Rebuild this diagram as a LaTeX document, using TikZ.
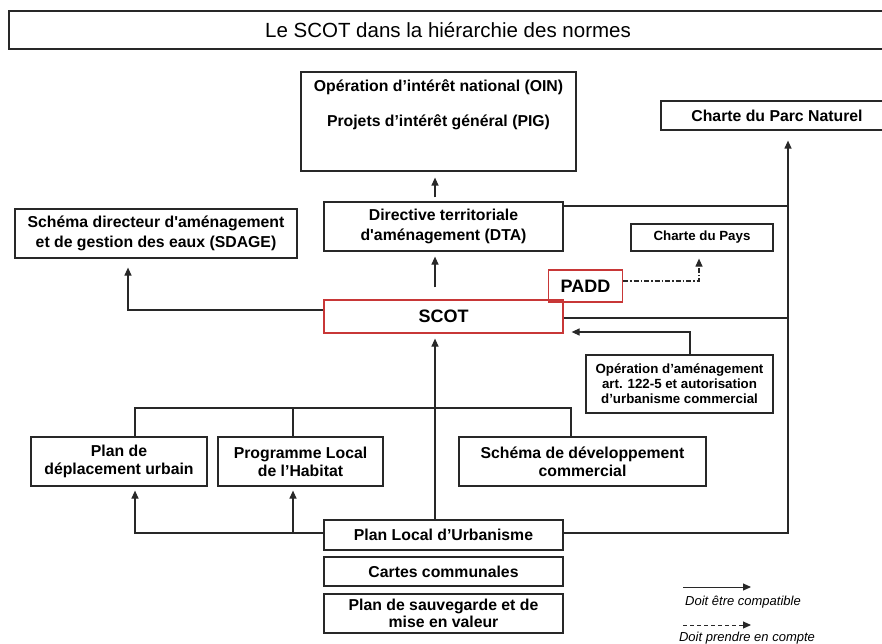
\documentclass[tikz,border=0pt]{standalone}
\usepackage{fontspec}
\setmainfont{Liberation Sans}
\usetikzlibrary{arrows.meta}
\definecolor{scotred}{RGB}{200,55,55}
\definecolor{ln}{RGB}{40,40,40}
\begin{document}
\begin{tikzpicture}[x=1pt,y=-1pt,
 box/.style={draw=ln, line width=1.2pt, rectangle, inner sep=0pt, align=center, font=\bfseries\fontsize{15.8}{19}\selectfont},
 redbox/.style={box, draw=scotred, font=\bfseries\fontsize{18}{20}\selectfont},
 small/.style={font=\bfseries\fontsize{13.3}{15}\selectfont},
 conn/.style={draw=ln, line width=1.2pt},
 arr/.style={conn, -{Triangle[length=8pt,width=7pt]}},
 dashdot/.style={conn, dash pattern=on 5pt off 2pt on 1.5pt off 2pt, -{Triangle[length=8pt,width=7pt]}},
 lab/.style={inner sep=0pt, font=\itshape\fontsize{13}{15}\selectfont}
]
\useasboundingbox (0,0) rectangle (882,644);
\fill[white] (0,0) rectangle (882,644);

% title
\node[box, font=\fontsize{20.5}{24}\selectfont, minimum width=878pt, minimum height=38pt] (title) at (448,30) {Le SCOT dans la hiérarchie des normes};

% boxes
\node[box, minimum width=275pt, minimum height=99pt] (oin) at (438.5,121.5) {};
\node[inner sep=0pt, align=center, font=\bfseries\fontsize{15.8}{19}\selectfont] (ointext) at (438.5,104.5) {Opération d’intérêt national (OIN)\\[16pt]Projets d’intérêt général (PIG)};
\node[box, minimum width=232pt, minimum height=29pt] (parc) at (777,115.5) {Charte du Parc Naturel};
\node[box, font=\bfseries\fontsize{15.8}{20}\selectfont, minimum width=239pt, minimum height=49pt] (dta) at (443.5,226.5) {Directive territoriale\\d\textquotesingle aménagement (DTA)};
\node[box, font=\bfseries\fontsize{15.8}{20}\selectfont, minimum width=282pt, minimum height=49pt] (sdage) at (156,233.5) {Schéma directeur d\textquotesingle aménagement\\et de gestion des eaux (SDAGE)};
\node[box, small, minimum width=142pt, minimum height=27pt] (pays) at (702,237.5) {Charte du Pays};
\node[redbox, minimum width=239pt, minimum height=33pt] (scot) at (443.5,316.5) {SCOT};
\node[redbox, minimum width=74pt, minimum height=32pt] (padd) at (585.5,286) {PADD};
\node[box, small, minimum width=187pt, minimum height=58pt] (op) at (679.5,384) {Opération d’aménagement\\art. 122-5 et autorisation\\d’urbanisme commercial};
\node[box, font=\bfseries\fontsize{15.8}{18}\selectfont, minimum width=247pt, minimum height=49pt] (sdc) at (582.5,461.5) {Schéma de développement\\commercial};
\node[box, font=\bfseries\fontsize{15.8}{18}\selectfont, minimum width=176pt, minimum height=49pt] (pdu) at (119,461.5) {Plan de\\déplacement urbain};
\node[box, font=\bfseries\fontsize{15.8}{18}\selectfont, minimum width=165pt, minimum height=49pt] (plh) at (300.5,461.5) {Programme Local\\de l’Habitat};
\node[box, minimum width=239pt, minimum height=30pt] (plu) at (443.5,535) {Plan Local d’Urbanisme};
\node[box, minimum width=239pt, minimum height=29pt] (cartes) at (443.5,571.5) {Cartes communales};
\node[box, font=\bfseries\fontsize{15.8}{17}\selectfont, minimum width=239pt, minimum height=39pt] (sauv) at (443.5,613.5) {Plan de sauvegarde et de\\mise en valeur};

% helper coordinates
\coordinate (vx) at (435,0);
\coordinate (tk) at (788,0);
\coordinate (bus) at (0,408);
\coordinate (scotw) at ([yshift=6.5pt]scot.west);
\coordinate (scote) at ([yshift=-1.5pt]scot.east);
\coordinate (scotin) at ([yshift=-15.5pt]scot.east);
\coordinate (sdages) at ([xshift=-28pt]sdage.south);
\coordinate (dtae) at ([yshift=20.5pt]dta.east);
\coordinate (plue) at ([yshift=2pt]plu.east);
\coordinate (pluw) at ([yshift=2pt]plu.west);
\coordinate (opn) at ([xshift=10.5pt]op.north);
\coordinate (padde) at ([yshift=5pt]padd.east);
\coordinate (payss) at ([xshift=-3pt]pays.south);
\coordinate (pdun) at ([xshift=16pt]pdu.north);
\coordinate (pdus) at ([xshift=16pt]pdu.south);
\coordinate (plhn) at ([xshift=-7.5pt]plh.north);
\coordinate (plhs) at ([xshift=-7.5pt]plh.south);
\coordinate (sdcn) at ([xshift=-11.5pt]sdc.north);

% connectors
\draw[arr, shorten <=4pt, shorten >=6pt] (dta.north -| vx) -- (oin.south -| vx);
\draw[arr, shorten <=12pt, shorten >=5pt] (scot.north -| vx) -- (dta.south -| vx);
\draw[arr, shorten >=5pt] (plu.north -| vx) -- (scot.south -| vx);
\draw[arr, shorten >=9pt] (scotw) -| (sdages);
\draw[conn] (dtae) -- (dtae -| tk);
\draw[conn] (scote) -- (scote -| tk);
\draw[arr, shorten >=10pt] (plue) -| (parc.south -| tk);
\draw[arr, shorten >=8pt] (opn) |- (scotin);
\draw[dashdot, shorten >=7pt] (padde) -| (payss);
\draw[conn] (pdun) |- (sdcn |- bus) -- (sdcn);
\draw[conn] (plhn) -- (plhn |- bus);
\draw[arr, shorten >=4pt] (pluw) -| (pdus);
\draw[arr, shorten >=4pt] (plhs |- pluw) -- (plhs);

% legend
\coordinate (l1a) at (683,587);
\coordinate (l1b) at (751,587);
\coordinate (l2a) at (683,625);
\coordinate (l2b) at (751,625);
\draw[arr, line width=1pt] (l1a) -- (l1b);
\draw[arr, line width=1pt, dash pattern=on 4pt off 3pt] (l2a) -- (l2b);
\node[lab] (l1t) at (743,602) {Doit être compatible};
\node[lab] (l2t) at (747,638) {Doit prendre en compte};
\end{tikzpicture}
\end{document}
